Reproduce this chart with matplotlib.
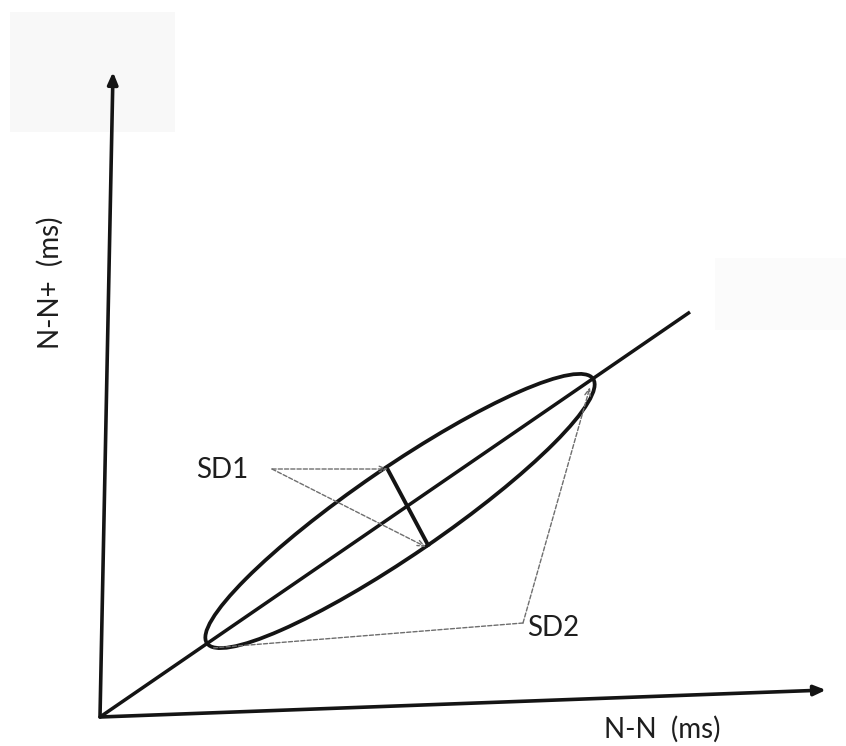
import matplotlib
matplotlib.use("Agg")
import matplotlib.pyplot as plt
from matplotlib.patches import Ellipse, Rectangle
import numpy as np

# Schematic geometry (pixel-like coordinate space of the drawing)
origin = (100, 717)
x_axis_end = (826, 690)
y_axis_end = (113, 72)
identity_end = (690, 312)
ellipse_center = (400, 511)
ellipse_major = 468
ellipse_minor = 88
ellipse_angle = 34.4
sd1_segment = [(388, 470), (428, 545)]
sd1_label_pos = (222, 470)
sd1_pointer_start = (272, 469)
sd1_targets = [(388, 469), (426, 547)]
sd2_label_pos = (553, 628)
sd2_pointer_start = (523, 623)
sd2_targets = [(590, 387), (212, 648)]
x_label = "N-N  (ms)"
y_label = "N-N+  (ms)"
x_label_pos = (662, 729)
y_label_pos = (50, 283)

fig = plt.figure(figsize=(8.46, 7.46), dpi=100)
ax = fig.add_axes([0, 0, 1, 1])
ax.set_xlim(0, 846)
ax.set_ylim(746, 0)
ax.axis("off")

# faint scan smudges
ax.add_patch(Rectangle((10, 12), 165, 120, color="#f8f8f8", lw=0, zorder=0))
ax.add_patch(Rectangle((715, 258), 131, 72, color="#fbfbfb", lw=0, zorder=0))

k = "#141414"
arrow_kw = dict(arrowstyle="-|>,head_length=0.7,head_width=0.3", color=k, lw=2.6,
                shrinkA=0, shrinkB=0)
ax.annotate("", xy=x_axis_end, xytext=origin, arrowprops=arrow_kw)
ax.annotate("", xy=y_axis_end, xytext=origin, arrowprops=arrow_kw)
ax.plot([origin[0], identity_end[0]], [origin[1], identity_end[1]], color=k, lw=2.5,
        solid_capstyle="butt")

ax.add_patch(Ellipse(ellipse_center, ellipse_major, ellipse_minor, angle=-ellipse_angle,
                     fill=False, ec=k, lw=2.7))
ax.plot([p[0] for p in sd1_segment], [p[1] for p in sd1_segment], color=k, lw=2.8)

dot_kw = dict(arrowstyle="->,head_length=0.5,head_width=0.2", color="#6e6e6e", lw=1.0,
              linestyle=(0, (3, 1.5)), shrinkA=0, shrinkB=0)
for t in sd1_targets:
    ax.annotate("", xy=t, xytext=sd1_pointer_start, arrowprops=dot_kw)
for i, t in enumerate(sd2_targets):
    kw = dict(dot_kw)
    if i == 1:
        kw["arrowstyle"] = "-"
    ax.annotate("", xy=t, xytext=sd2_pointer_start, arrowprops=kw)

font = "Lato"
tc = "#1e1e1e"
fs = 20
ax.text(*sd1_label_pos, "SD1", fontsize=fs, family=font, color=tc,
        ha="center", va="center")
ax.text(*sd2_label_pos, "SD2", fontsize=fs, family=font, color=tc,
        ha="center", va="center")
ax.text(*x_label_pos, x_label, fontsize=fs, family=font, color=tc,
        ha="center", va="center")
ax.text(*y_label_pos, y_label, fontsize=fs, family=font, color=tc,
        ha="center", va="center", rotation=90)

fig.savefig("out.png", dpi=100)
